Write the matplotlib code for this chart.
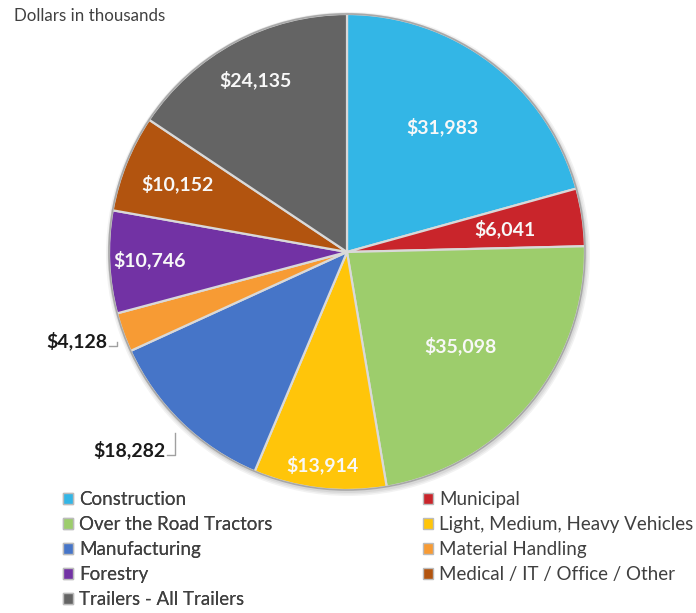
import numpy as np
import matplotlib.pyplot as plt
from matplotlib.patches import Circle, Patch

plt.rcParams['font.family'] = ['Lato', 'DejaVu Sans']

# Equipment finance volume by segment, dollars in thousands
segments = ['Construction', 'Municipal', 'Over the Road Tractors',
            'Light, Medium, Heavy Vehicles', 'Manufacturing', 'Material Handling',
            'Forestry', 'Medical / IT / Office / Other', 'Trailers - All Trailers']
amounts = [31983, 6041, 35098, 13914, 18282, 4128, 10746, 10152, 24135]
colors = ['#33B6E6', '#C9252B', '#9DCD6C', '#FFC50A', '#4675C8', '#F79B34',
          '#7232A4', '#B2540F', '#646464']

# radius fraction for each value label; None -> label sits outside with leader
label_frac = [0.66, 0.67, 0.62, 0.90, None, None, 0.83, 0.77, 0.82]
outside_text = {4: (165, 450), 5: (107, 341)}   # text right end (x, y from top)

W, H = 696, 613
fig = plt.figure(figsize=(W / 100, H / 100), dpi=100)
ax = fig.add_axes([0, 0, 1, 1])

cx, cy, R = 347, H - 252, 238

# soft shadow behind the pie
for k, a in enumerate([0.05, 0.05, 0.06]):
    ax.add_patch(Circle((cx + 1, cy - 2), R + 4 - k * 1.5, color='#000000',
                        alpha=a, lw=0, zorder=0))

wedges, _ = ax.pie(amounts, colors=colors, startangle=90, counterclock=False,
                   center=(cx, cy), radius=R, frame=True,
                   wedgeprops=dict(edgecolor='#d9d9d9', linewidth=1.6))
ax.set_xlim(0, W)
ax.set_ylim(0, H)
ax.set_aspect('equal')
ax.axis('off')
ax.add_patch(Circle((cx, cy), R, fill=False, edgecolor='#a8a8a8', lw=1.2, zorder=3))

for i, (w, v) in enumerate(zip(wedges, amounts)):
    mid = np.deg2rad((w.theta1 + w.theta2) / 2)
    txt = '${:,}'.format(v)
    if label_frac[i] is not None:
        r = R * label_frac[i]
        ax.text(cx + r * np.cos(mid), cy + r * np.sin(mid), txt, color='#f8f8f8',
                fontsize=14, fontweight='bold', ha='center', va='center', zorder=4)
    else:
        tx, ty = outside_text[i]
        ty = H - ty
        ex = cx + R * 1.0 * np.cos(mid) - 6
        ey = cy + R * 1.0 * np.sin(mid) - 10
        ax.plot([tx + 2, ex, ex], [ty - 5, ty - 5, ey], color='#a0a0a0', lw=1, zorder=4)
        ax.text(tx, ty, txt, color='#1a1a1a', fontsize=14, fontweight='bold',
                ha='right', va='center', zorder=4)

ax.text(14, H - 16, 'Dollars in thousands', fontsize=12.2, color='#404040',
        ha='left', va='center')

# two legend columns: left holds the even entries, right the odd ones
leg_kw = dict(frameon=False, fontsize=13.5, handlelength=0.55, handleheight=0.55,
              handletextpad=0.3, labelspacing=0.43, labelcolor='#404040',
              borderaxespad=0, borderpad=0, loc='upper left')
left = [Patch(facecolor=colors[i], edgecolor='#bbbbbb', label=segments[i]) for i in [0, 2, 4, 6, 8]]
right = [Patch(facecolor=colors[i], edgecolor='#bbbbbb', label=segments[i]) for i in [1, 3, 5, 7]]
lg1 = fig.legend(handles=left, bbox_to_anchor=(63 / W, 1 - 491 / H), **leg_kw)
fig.legend(handles=right, bbox_to_anchor=(423 / W, 1 - 491 / H), **leg_kw)
fig.add_artist(lg1)

fig.savefig('out.png', dpi=100)
